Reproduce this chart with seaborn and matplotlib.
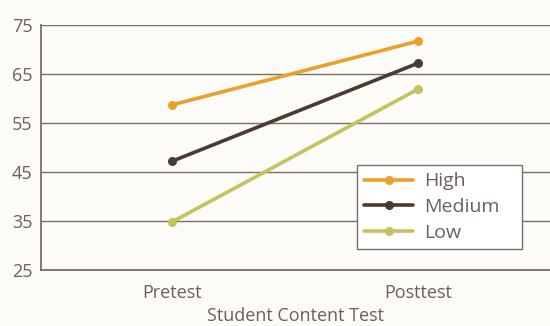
import matplotlib
matplotlib.use("Agg")
import matplotlib.pyplot as plt
import seaborn as sns
import pandas as pd

tests = ["Pretest", "Posttest"]
groups = ["High", "Medium", "Low"]
high = [58.7, 71.7]
medium = [47.2, 67.2]
low = [34.8, 61.9]
y_ticks = [25, 35, 45, 55, 65, 75]

palette = {"High": "#eba02a", "Medium": "#4b3a2f", "Low": "#c6c25d"}
bg = "#fcfbf7"
ink = "#6b605b"
rule = "#7a6e68"

rows = []
for g, vals in zip(groups, [high, medium, low]):
    for t, v in zip(tests, vals):
        rows.append({"test": t, "score": v, "group": g})
df = pd.DataFrame(rows)

sns.set_style("white")
plt.rcParams["font.family"] = ["Open Sans", "DejaVu Sans"]

fig = plt.figure(figsize=(5.5, 3.26), dpi=100, facecolor=bg)
ax = fig.add_axes([41 / 550, 1 - 270 / 326, 509 / 550, 245 / 326])
ax.set_facecolor(bg)

sns.lineplot(data=df, x="test", y="score", hue="group", hue_order=groups,
             palette=palette, marker="o", markersize=6.5, markeredgewidth=0,
             linewidth=2.6, sort=False, ax=ax, zorder=3)

ax.set_ylim(25, 75)
ax.set_yticks(y_ticks)
ax.set_xlim(-0.533, 1.537)
ax.set_xticks([0, 1])
ax.set_xticklabels(tests)
ax.set_xticks([0.5, 1.537], minor=True)
ax.tick_params(axis="x", which="major", length=0, pad=10, labelsize=13, colors=ink)
ax.tick_params(axis="x", which="minor", length=6, width=1, color=rule, direction="inout")
ax.tick_params(axis="y", length=0, pad=6, labelsize=13, colors=ink)

ax.yaxis.grid(True, color=rule, linewidth=1)
ax.set_axisbelow(True)
for s in ["top", "right"]:
    ax.spines[s].set_visible(False)
for s in ["left", "bottom"]:
    ax.spines[s].set_color(rule)
    ax.spines[s].set_linewidth(1.3)

ax.set_xlabel("Student Content Test", fontsize=13, color=ink, labelpad=4)
ax.set_ylabel("")

# legend box spans x 357..522 px, top at y 165 px
x0 = (357 - 41) / 509
w = (522 - 357) / 509
top = (270 - 165) / 245
leg = ax.legend(loc="upper left", bbox_to_anchor=(x0, top - 0.3, w, 0.3), mode="expand",
                frameon=True, fancybox=False, fontsize=14, handlelength=2.5,
                borderpad=0.38, labelspacing=0.4, handletextpad=0.55,
                borderaxespad=0, title=None)
leg.get_frame().set_edgecolor(rule)
leg.get_frame().set_facecolor("white")
leg.get_frame().set_linewidth(1)
leg.get_frame().set_alpha(1)
for t in leg.get_texts():
    t.set_color(ink)

fig.savefig("out.png", dpi=100, facecolor=bg)
